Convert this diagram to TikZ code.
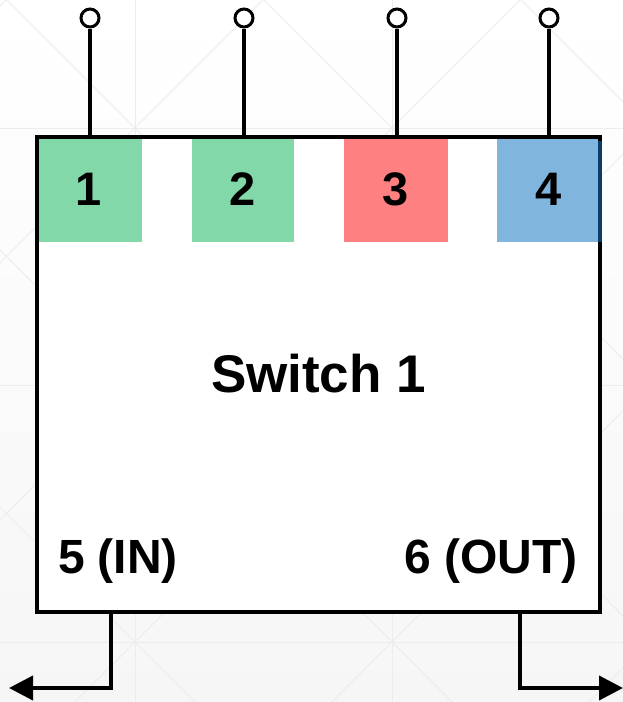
\documentclass[tikz,border=0pt]{standalone}
\usepackage{fontspec}
\setmainfont{Liberation Sans}
\usetikzlibrary{arrows.meta,calc}
\definecolor{pgreen}{HTML}{82D8A8}
\definecolor{pred}{HTML}{FF8080}
\definecolor{pblue}{HTML}{80B5DD}
\definecolor{pdark}{HTML}{0B3C66}
\definecolor{gridc}{HTML}{ECECEC}
\tikzset{
  wire/.style={line width=4pt, draw=black},
  portbox/.style={rectangle, inner sep=0pt, minimum width=104pt, minimum height=103pt, text=black},
  term/.style={circle, draw=black, line width=3pt, fill=white, minimum size=18pt, inner sep=0pt},
  lbl/.style={inner sep=0pt, anchor=base, font=\fontsize{47}{50}\selectfont\bfseries},
  tip/.style={-{Triangle[length=24pt,width=24pt]}}
}
\begin{document}
\begin{tikzpicture}[x=1pt,y=-1pt]
\useasboundingbox (0,0) rectangle (623,702);
% background
\shade[top color=white, bottom color=gray!7] (0,0) rectangle (623,702);
\begin{scope}
\clip (0,0) rectangle (623,702);
\foreach \c in {-507,-250,7,264,521} \draw[gridc, line width=1pt] (\c,0) -- (\c+702,702);
\foreach \d in {6,263,520,777,1034,1291} \draw[gridc, line width=1pt] (\d,0) -- (\d-702,702);
\foreach \x in {135,392} \draw[gridc, line width=1pt] (\x,0) -- (\x,702);
\foreach \y in {128,385,642} \draw[gridc, line width=1pt] (0,\y) -- (623,\y);
\end{scope}
% main box
\node (sw) [rectangle, fill=white, inner sep=0pt, minimum width=563pt, minimum height=475pt] at (318.5,374.5) {};
% port boxes
\node (p1) [portbox, fill=pgreen, minimum width=105pt] at (89.5,190.5) {};
\node (p2) [portbox, fill=pgreen, minimum width=102pt] at (243,190.5) {};
\node (p3) [portbox, fill=pred] at (396,190.5) {};
\node (p4) [portbox, fill=pblue, minimum width=103pt] at (548.5,190.5) {};
\node[lbl] (n1) at (89,205) {1};
\node[lbl] (n2) at (243,205) {2};
\node[lbl] (n3) at (396,205) {3};
\node[lbl] (n4) at (549,205) {4};
% border
\draw[wire] (sw.north west) rectangle (sw.south east);
\draw[pdark, line width=4pt] (p4.north east) ++(0,2) -- (p4.south east);
% labels
\node[lbl, font=\fontsize{53}{56}\selectfont\bfseries] (title) at (318.5,392) {Switch 1};
\node[lbl, font=\fontsize{48}{50}\selectfont\bfseries] (in) at (118,573) {5 (IN)};
\node[lbl, font=\fontsize{48}{50}\selectfont\bfseries] (out) at (491,573) {6 (OUT)};
% terminals
\node[term] (t1) at (90,18) {};
\node[term] (t2) at (244,18) {};
\node[term] (t3) at (397,18) {};
\node[term] (t4) at (549,18) {};
\draw[wire] (t1) -- (t1 |- sw.north);
\draw[wire] (t2) -- (t2 |- sw.north);
\draw[wire] (t3) -- (t3 |- sw.north);
\draw[wire] (t4) -- (t4 |- sw.north);
% bottom connectors
\coordinate (inbend) at (111,688);
\coordinate (intip) at (9,688);
\coordinate (outbend) at (520,688);
\coordinate (outtip) at (623,688);
\draw[wire, tip] (inbend |- sw.south) -- (inbend) -- (intip);
\draw[wire, tip] (outbend |- sw.south) -- (outbend) -- (outtip);
\end{tikzpicture}
\end{document}
